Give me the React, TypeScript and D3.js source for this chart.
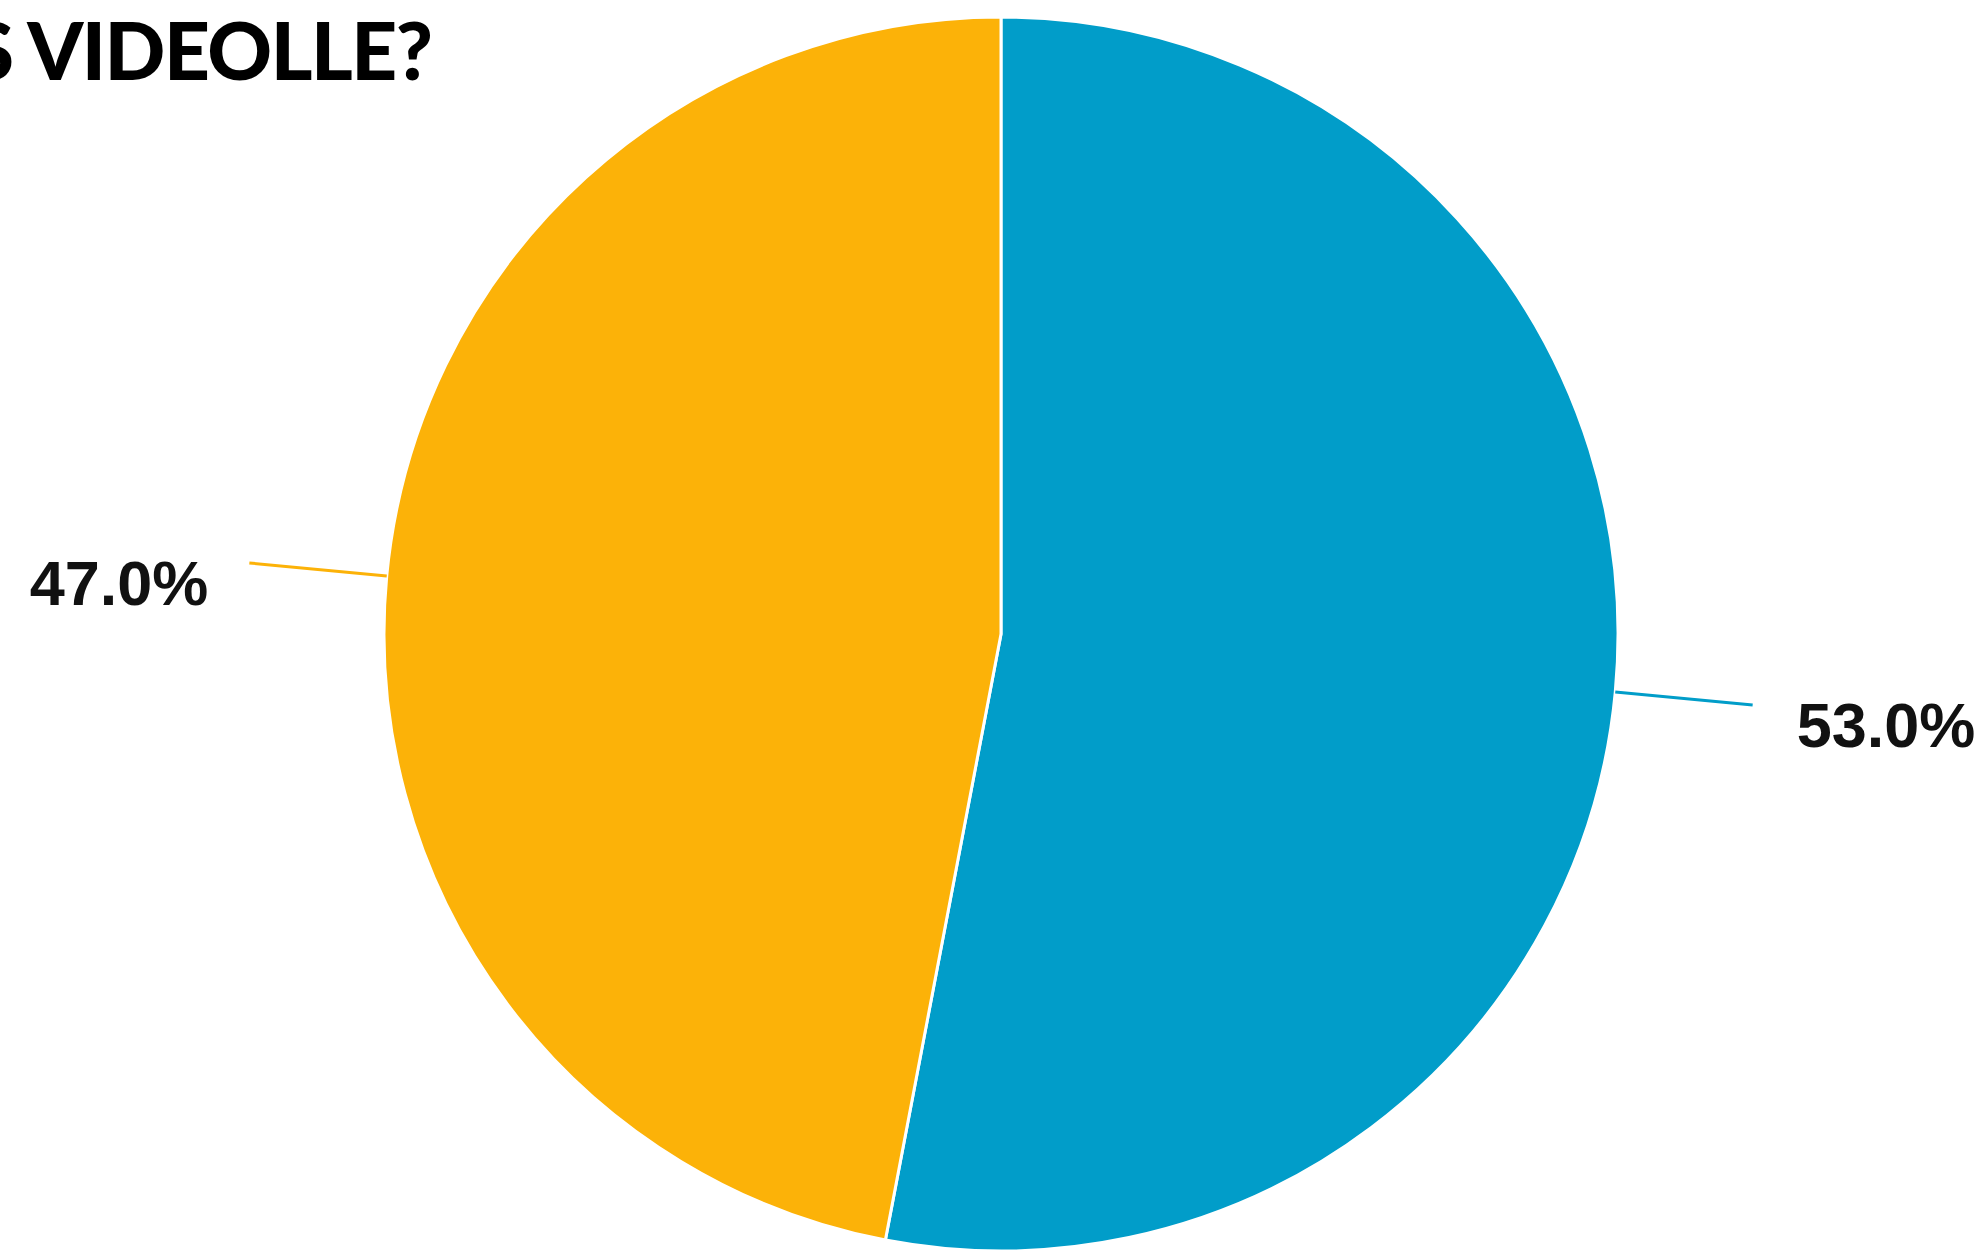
import React from "react";
import * as d3 from "d3";

const categories = ["Kyllä", "Ei"];
const values = [53.0, 47.0];
const colors = ["#019dc9", "#fcb208"];
const titleText = "S VIDEOLLE?";

const W = 1985;
const H = 1251;
const CX = 1001;
const CY = 634;
const R = 617;
const LINE_END = 755;

export default function App() {
  const pie = d3
    .pie<number>()
    .sort(null)
    .value((d) => d)
    .startAngle(0)
    .endAngle(2 * Math.PI);
  const arcs = pie(values);
  const arcGen = d3.arc<d3.PieArcDatum<number>>().innerRadius(0).outerRadius(R);
  const total = d3.sum(values);
  const fmt = d3.format(".1f");

  return (
    <svg
      width={W}
      height={H}
      style={{ position: "absolute", left: 0, top: 0, background: "#fff" }}
    >
      <text
        x={-30}
        y={80}
        textLength={463}
        lengthAdjust="spacing"
        fontFamily="Lato, 'Open Sans', sans-serif"
        fontWeight={900}
        fontSize={80}
        fill="#000"
      >
        {titleText}
      </text>
      <g transform={`translate(${CX},${CY})`}>
        {arcs.map((a, i) => (
          <path
            key={categories[i]}
            d={arcGen(a) || ""}
            fill={colors[i]}
            stroke="#fff"
            strokeWidth={3}
          />
        ))}
        {arcs.map((a, i) => {
          const mid = (a.startAngle + a.endAngle) / 2;
          const sx = Math.sin(mid);
          const sy = -Math.cos(mid);
          const right = sx > 0;
          const x1 = R * sx;
          const y1 = R * sy;
          const x2 = LINE_END * sx;
          const y2 = LINE_END * sy;
          const tx = x2 + (right ? 44 : -41);
          return (
            <g key={"l" + categories[i]}>
              <line
                x1={x1}
                y1={y1}
                x2={x2}
                y2={y2}
                stroke={colors[i]}
                strokeWidth={3}
              />
              <text
                x={tx}
                y={y2 + 20}
                dy="0.35em"
                textAnchor={right ? "start" : "end"}
                fontFamily="'Liberation Sans', Arial, sans-serif"
                fontWeight="bold"
                fontSize={63}
                fill="#111"
              >
                {fmt((a.data / total) * 100) + "%"}
              </text>
            </g>
          );
        })}
      </g>
    </svg>
  );
}
